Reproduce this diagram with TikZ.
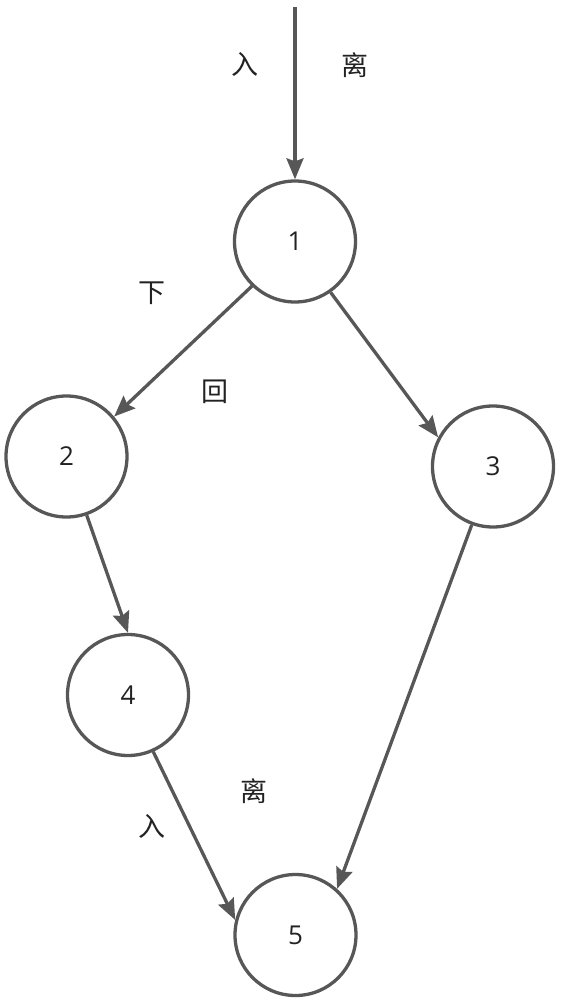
\documentclass[tikz,border=0pt]{standalone}
\usepackage{fontspec}
\setmainfont{Open Sans}
\newfontfamily\cjk{Noto Sans CJK SC}
\usetikzlibrary{arrows.meta}
\definecolor{edgegray}{HTML}{575757}
\definecolor{txtgray}{HTML}{222222}
\begin{document}
\begin{tikzpicture}[x=1pt,y=-1pt,
  state/.style={circle,draw=edgegray,line width=3.3pt,minimum size=121pt,inner sep=0pt,
    font=\fontsize{26}{30}\selectfont,text=txtgray},
  lbl/.style={font=\cjk\fontsize{27}{31}\selectfont,text=txtgray,inner sep=0pt},
  conn/.style={draw=edgegray,line width=3.3pt,-{Stealth[length=21pt,width=17pt,inset=3pt]}}]
\useasboundingbox (0,0) rectangle (564,1004);
\node[state] (n1) at (295,241.5) {1};
\node[state] (n2) at (66.5,456.5) {2};
\node[state] (n3) at (493,466.5) {3};
\node[state] (n4) at (128,695) {4};
\node[state] (n5) at (295.5,935) {5};
\coordinate (top) at (295,7);
\draw[conn] (top) -- (n1.90);
\draw[conn] (n1.226) -- (n2.40);
\draw[conn] (n1.305) -- (n3.152.6);
\draw[conn] (n2.289) -- (n4.90);
\draw[conn] (n4.294) -- (n5.166.5);
\draw[conn] (n3.250) -- (n5.48.5);
\node[lbl] (l1) at (245,64) {入};
\node[lbl] (l2) at (355,65) {离};
\node[lbl] (l3) at (152,293) {下};
\node[lbl] (l4) at (215,392) {回};
\node[lbl] (l5) at (254,791) {离};
\node[lbl] (l6) at (152,826) {入};
\end{tikzpicture}
\end{document}
